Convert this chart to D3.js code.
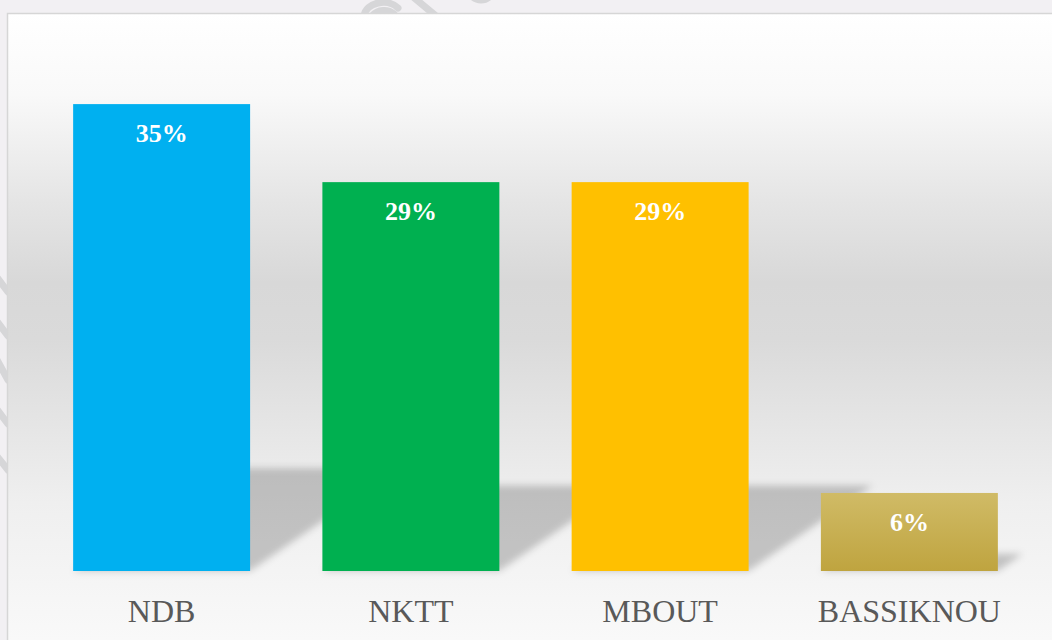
<!DOCTYPE html>
<html>
<head>
<meta charset="utf-8">
<script src="https://cdn.jsdelivr.net/npm/d3@7"></script>
<style>
  html, body { margin: 0; padding: 0; background: #f2f0f3; }
  svg { display: block; }
</style>
</head>
<body>
<div class="chart"></div>
<script>
// data
var categories = ["NDB", "NKTT", "MBOUT", "BASSIKNOU"];
var values = [0.35, 0.2915, 0.2915, 0.0585];
var labels = ["35%", "29%", "29%", "6%"];
var barColors = ["#00b0f0", "#00b050", "#ffc000", "url(#gold)"];

var W = 1052, H = 640;

var svg = d3.select(".chart")
  .append("svg")
  .attr("width", W)
  .attr("height", H);

var defs = svg.append("defs");

// frame background: white -> grey -> white
var bg = defs.append("linearGradient")
  .attr("id", "bg")
  .attr("gradientUnits", "userSpaceOnUse")
  .attr("x1", 0).attr("y1", 13)
  .attr("x2", 0).attr("y2", 640);
[[0, "#ffffff"], [0.13, "#f9f9f9"], [0.3, "#e5e5e5"], [0.43, "#d8d8d8"],
 [0.52, "#dadada"], [0.63, "#e3e3e3"], [0.78, "#efefef"], [1, "#f9f9f9"]]
  .forEach(function(s) {
    bg.append("stop").attr("offset", s[0]).attr("stop-color", s[1]);
  });

var gold = defs.append("linearGradient")
  .attr("id", "gold")
  .attr("x1", 0).attr("y1", 0).attr("x2", 0).attr("y2", 1);
gold.append("stop").attr("offset", 0).attr("stop-color", "#d0bb66");
gold.append("stop").attr("offset", 1).attr("stop-color", "#bfa43f");

defs.append("filter")
  .attr("id", "blur")
  .attr("x", "-20%").attr("y", "-40%")
  .attr("width", "140%").attr("height", "180%")
  .append("feGaussianBlur")
  .attr("stdDeviation", 3.5);

// watermark scribbles in the page margin
var wm = svg.append("g")
  .attr("fill", "none")
  .attr("stroke", "#d6d6d8")
  .attr("stroke-width", 7)
  .attr("stroke-linecap", "round");
wm.append("path").attr("d", "M364,16 C366,2 388,-2 398,8");
wm.append("path").attr("d", "M372,16 C378,9 388,9 394,14");
wm.append("path").attr("d", "M412,-4 L436,16");
wm.append("path").attr("d", "M470,-6 C476,2 486,2 492,-6");
wm.append("path").attr("d", "M-4,276 L8,292");
wm.append("path").attr("d", "M-4,320 L8,336");
wm.append("path").attr("d", "M-4,358 L8,380");
wm.append("path").attr("d", "M-4,408 L8,424");
wm.append("path").attr("d", "M-4,455 L8,470");

// frame
svg.append("rect")
  .attr("x", 7.5).attr("y", 13.5)
  .attr("width", W + 20).attr("height", H + 20)
  .attr("fill", "url(#bg)")
  .attr("stroke", "#d6d6d6")
  .attr("stroke-width", 1.5);

// scales
var x = d3.scaleBand()
  .domain(categories)
  .range([37, 1034])
  .paddingInner(0.29)
  .paddingOuter(0.145);

var y = d3.scaleLinear()
  .domain([0, 0.40])
  .range([571, 37.4]);

var data = categories.map(function(c, i) {
  return {cat: c, value: values[i], label: labels[i], color: barColors[i]};
});

// floor shadows thrown up and to the right
var k = 0.22, slant = 1.45;
svg.append("g")
  .attr("filter", "url(#blur)")
  .selectAll("polygon")
  .data(data)
  .enter()
  .append("polygon")
  .attr("fill", "#000")
  .attr("fill-opacity", 0.2)
  .attr("points", function(d) {
    var x0 = x(d.cat), x1 = x0 + x.bandwidth();
    var b = y(0), h = (y(0) - y(d.value)) * k, dx = h * slant;
    return [[x0, b], [x1, b], [x1 + dx, b - h], [x0 + dx, b - h]].join(" ");
  });

// bars
svg.append("g")
  .selectAll("rect")
  .data(data)
  .enter()
  .append("rect")
  .attr("x", function(d) { return x(d.cat); })
  .attr("y", function(d) { return y(d.value); })
  .attr("width", x.bandwidth())
  .attr("height", function(d) { return y(0) - y(d.value); })
  .attr("fill", function(d) { return d.color; });

// value labels
svg.append("g")
  .selectAll("text")
  .data(data)
  .enter()
  .append("text")
  .attr("x", function(d) { return x(d.cat) + x.bandwidth() / 2; })
  .attr("y", function(d) { return y(d.value) + 38; })
  .attr("text-anchor", "middle")
  .attr("fill", "#ffffff")
  .style("font-family", "'Liberation Serif', 'DejaVu Serif', serif")
  .style("font-weight", "bold")
  .style("font-size", "26px")
  .text(function(d) { return d.label; });

// category axis labels
var xAxis = svg.append("g")
  .attr("transform", "translate(0," + y(0) + ")")
  .call(d3.axisBottom(x).tickSize(0).tickPadding(28));
xAxis.select(".domain").remove();
xAxis.selectAll("text")
  .attr("fill", "#595959")
  .style("font-family", "'Liberation Serif', 'DejaVu Serif', serif")
  .style("font-size", "32px");
</script>
</body>
</html>
